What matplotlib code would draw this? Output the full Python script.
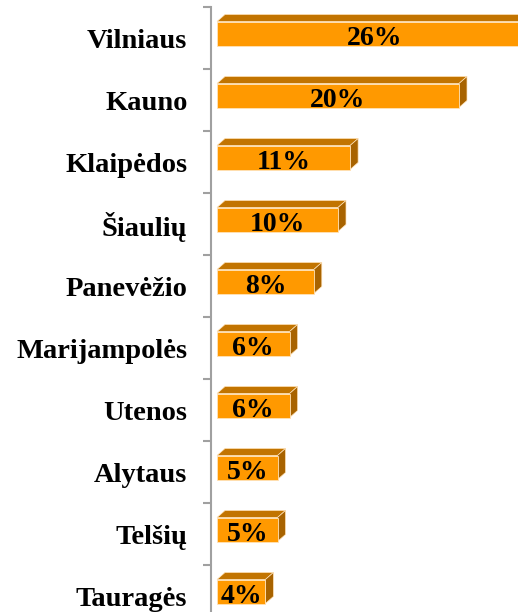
import matplotlib.pyplot as plt
from matplotlib.patches import Polygon, Rectangle

cities = ['Vilniaus', 'Kauno', 'Klaipėdos', 'Šiaulių', 'Panevėžio',
          'Marijampolės', 'Utenos', 'Alytaus', 'Telšių', 'Tauragės']
shares = [26, 20, 11, 10, 8, 6, 6, 5, 5, 4]

front = '#FF9900'
top = '#C27400'
side = '#A86300'
edge = '#FFE2B8'

W, H = 518, 612
fig = plt.figure(figsize=(W / 100, H / 100), dpi=100)
# axes: left spine at x=211px, top at 7px
ax = fig.add_axes([211 / W, 0, (W - 211) / W, (H - 7) / H])

px_x = 12.1   # pixels per percent
px_y = 62.0   # pixels per category
ax.set_xlim(-6 / px_x, (W - 217) / px_x)
ax.set_ylim(-0.5 + (H - 7) / px_y, -0.5)

h = 24 / px_y
dx = 8 / px_x
dy = 7 / px_y
shift = -4.5 / px_y

for i, v in enumerate(shares):
    c = i + shift
    y0, y1 = c - h / 2, c + h / 2
    ax.add_patch(Polygon([(0, y0), (v, y0), (v + dx, y0 - dy), (dx, y0 - dy)],
                         closed=True, fc=top, ec=edge, lw=0.5))
    ax.add_patch(Polygon([(v, y0), (v + dx, y0 - dy), (v + dx, y1 - dy), (v, y1)],
                         closed=True, fc=side, ec=edge, lw=0.5))
    ax.add_patch(Rectangle((0, y0), v, h, fc=front, ec=edge, lw=0.6))
    ax.text(v / 2, c + 2 / px_y, f'{v}%', ha='center', va='center_baseline',
            fontsize=20, fontweight='bold', family='Liberation Serif')

for s in ['top', 'right', 'bottom']:
    ax.spines[s].set_visible(False)
ax.spines['left'].set_color('#A0A0A0')
ax.spines['left'].set_linewidth(1.5)

ax.set_xticks([])
ax.set_yticks(range(len(cities)))
ax.set_yticklabels(cities, fontsize=20.5, fontweight='bold', family='Liberation Serif')
ax.tick_params(axis='y', which='major', length=0, pad=17)
ax.set_yticks([i - 0.5 for i in range(len(cities))], minor=True)
ax.tick_params(axis='y', which='minor', length=5.8, width=1.5, color='#A0A0A0')

fig.savefig('out.png', dpi=100)
